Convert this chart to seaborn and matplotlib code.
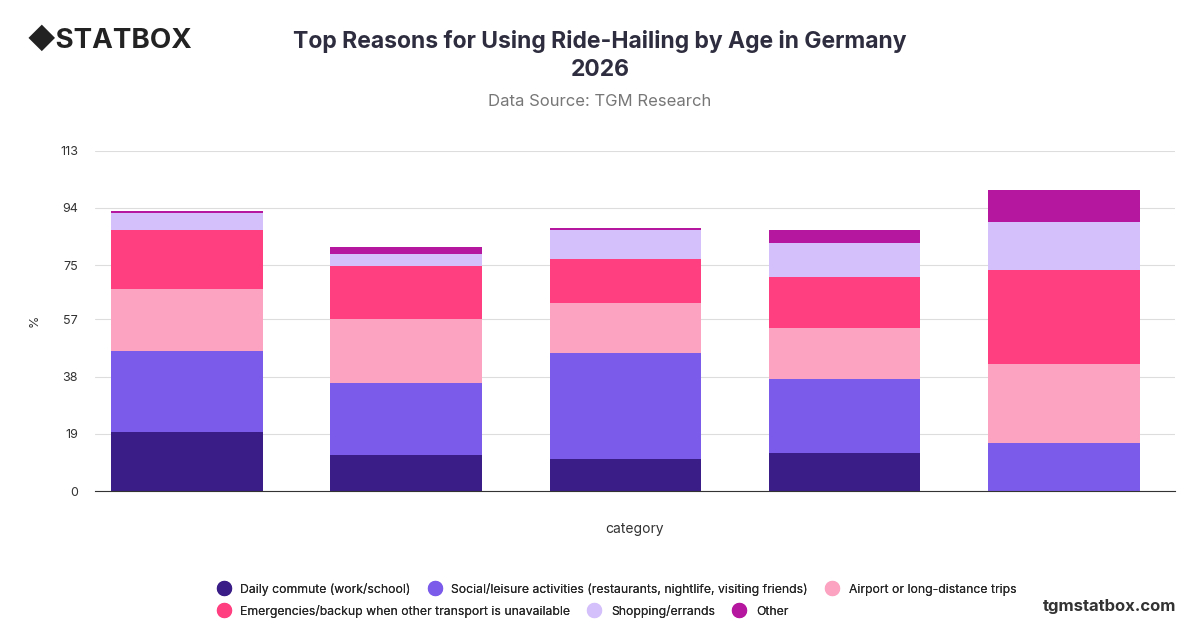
import matplotlib
matplotlib.use("Agg")
import matplotlib.pyplot as plt
import seaborn as sns
import numpy as np
import pandas as pd
from matplotlib.lines import Line2D

categories = ["18-24", "25-34", "35-44", "45-54", "55+"]
series_names = ["Daily commute (work/school)",
                "Social/leisure activities (restaurants, nightlife, visiting friends)",
                "Airport or long-distance trips",
                "Emergencies/backup when other transport is unavailable",
                "Shopping/errands", "Other"]
commute = [19.6, 12.0, 10.6, 12.6, 0.0]
social = [26.9, 23.9, 35.3, 24.6, 16.0]
airport = [20.6, 21.3, 16.6, 17.0, 26.2]
emergency = [19.6, 17.6, 14.6, 16.9, 31.2]
shopping = [5.7, 4.0, 9.6, 11.3, 16.0]
other = [0.6, 2.3, 0.7, 4.3, 10.6]
colors = ["#3a1d86", "#7b5cea", "#fba3c0", "#ff3f7f", "#d4c0fb", "#b5179e"]
yticks = [0, 19, 38, 57, 75, 94, 113]

sns.set_style("white")
plt.rcParams['font.family'] = ['Inter', 'DejaVu Sans']
fig = plt.figure(figsize=(12, 6.28), dpi=100)
ax = fig.add_axes([0.079, 0.218, 0.900, 0.542])

bottom = np.zeros(len(categories))
for name, vals, c in zip(series_names, [commute, social, airport, emergency, shopping, other], colors):
    df = pd.DataFrame({"category": categories, "v": vals})
    sns.barplot(data=df, x="category", y="v", color=c, bottom=bottom.copy(), width=0.69,
                ax=ax, saturation=1, linewidth=0, errorbar=None)
    bottom += np.array(vals)

ax.set_ylim(0, 113)
ax.set_yticks(yticks)
ax.set_yticklabels([str(t) for t in yticks], fontsize=9, color="#333333")
ax.set_xticks([])
ax.set_xlim(-0.42, 4.506)
ax.grid(axis="y", color="#dddddd", linewidth=0.8)
ax.set_axisbelow(True)
for s in ["top", "right", "left"]:
    ax.spines[s].set_visible(False)
ax.spines["bottom"].set_color("#333333")
ax.tick_params(axis="y", length=0, pad=12)
ax.set_xlabel("category", fontsize=10, color="#333333", labelpad=22)
ax.set_ylabel("%", fontsize=9, color="#333333", labelpad=14)

fig.text(0.5, 0.912, "Top Reasons for Using Ride-Hailing by Age in Germany\n2026", ha="center",
         va="center", fontsize=16.5, fontweight="bold", color="#2d2d3f", linespacing=1.35)
fig.text(0.5, 0.838, "Data Source: TGM Research", ha="center", va="center", fontsize=12, color="#777777")
fig.text(0.022, 0.936, "◆STATBOX", ha="left", va="center", fontsize=20, fontweight="bold", color="#222222")
fig.text(0.98, 0.035, "tgmstatbox.com", ha="right", va="center", fontsize=12, fontweight="bold", color="#333333")

handles = [Line2D([], [], marker="o", linestyle="", markersize=10, markerfacecolor=c, markeredgecolor=c) for c in colors]
for idxs, y in [([0, 1, 2], 0.062), ([3, 4, 5], 0.027)]:
    leg = fig.legend([handles[i] for i in idxs], [series_names[i] for i in idxs], loc="center left",
                     bbox_to_anchor=(0.172, y), ncol=3, frameon=False, fontsize=8.8,
                     handletextpad=0.35, columnspacing=1.0, borderaxespad=0)
    fig.add_artist(leg)
fig.savefig("out.png", dpi=100)
